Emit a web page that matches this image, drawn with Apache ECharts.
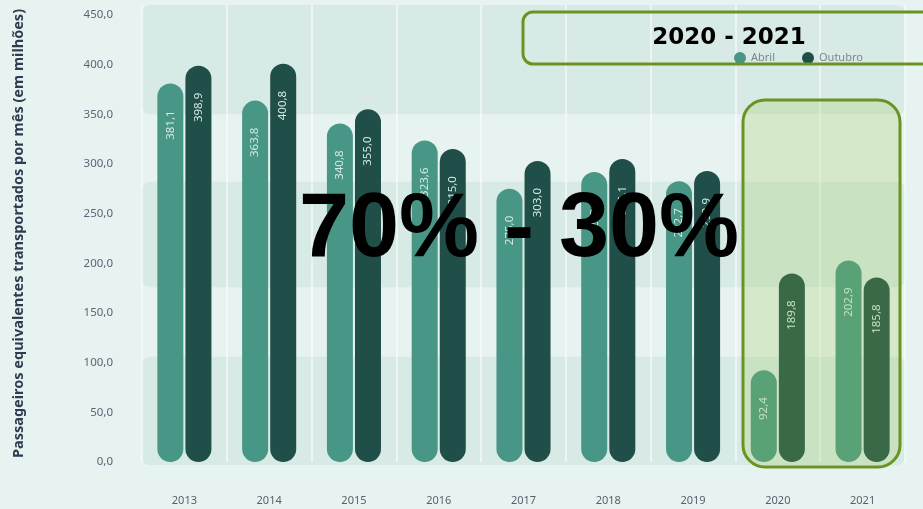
<!DOCTYPE html>
<html>
<head>
<meta charset="utf-8">
<script src="https://cdn.jsdelivr.net/npm/echarts@6.0.0/dist/echarts.min.js"></script>
<style>
  html, body { margin: 0; padding: 0; background: #e7f3f0; }
  #chart { width: 923px; height: 509px; }
</style>
</head>
<body>
<div id="chart"></div>
<script>
// dados
const years = ['2013', '2014', '2015', '2016', '2017', '2018', '2019', '2020', '2021']
const abril = [381.1, 363.8, 340.8, 323.6, 275.0, 292.0, 282.7, 92.4, 202.9]
const outubro = [398.9, 400.8, 355.0, 315.0, 303.0, 305.1, 292.9, 189.8, 185.8]
const seriesNames = ['Abril', 'Outubro']
const yAxisTitle = 'Passageiros equivalentes transportados por mês (em milhões)'
const highlightTitle = '2020 - 2021'
const bigText = '70% - 30%'

const fmt = v => v.toFixed(1).replace('.', ',')

const myChart = echarts.init(document.getElementById('chart'))

const barLabel = {
  show: true,
  position: 'insideTop',
  distance: 27,
  rotate: 90,
  align: 'right',
  verticalAlign: 'middle',
  color: '#d3e9e3',
  fontSize: 11.5,
  fontFamily: 'Noto Sans',
  formatter: p => fmt(p.value)
}

myChart.setOption({
  backgroundColor: '#e7f3f0',
  animation: false,
  grid: {
    left: 142,
    right: 18,
    top: 5,
    bottom: 47
  },
  legend: {
    data: seriesNames,
    icon: 'circle',
    itemWidth: 12,
    itemHeight: 12,
    itemGap: 27,
    left: 729,
    top: 47,
    textStyle: {
      color: '#7a8594',
      fontSize: 11,
      fontFamily: 'Noto Sans'
    }
  },
  xAxis: {
    type: 'category',
    data: years,
    axisLine: { show: false },
    axisTick: { show: false },
    axisLabel: {
      color: '#56616f',
      fontSize: 11,
      fontFamily: 'Noto Sans',
      margin: 33
    },
    splitLine: {
      show: true,
      lineStyle: { color: '#ffffff', width: 1.5, opacity: 0.7 }
    }
  },
  yAxis: {
    type: 'value',
    min: 0,
    max: 460,
    interval: 50,
    name: yAxisTitle,
    nameLocation: 'middle',
    nameGap: 116,
    nameTextStyle: {
      color: '#2e3b50',
      fontSize: 14.5,
      fontWeight: 'bold',
      fontFamily: 'Noto Sans'
    },
    axisLine: { show: false },
    axisTick: { show: false },
    splitLine: { show: false },
    axisLabel: {
      showMaxLabel: false,
      color: '#5b6577',
      fontSize: 11.5,
      fontFamily: 'Noto Sans',
      margin: 29,
      formatter: v => fmt(v)
    }
  },
  series: [
    {
      name: seriesNames[0],
      type: 'bar',
      barWidth: 26,
      barGap: '8%',
      itemStyle: { color: '#489686', borderRadius: 13 },
      label: barLabel,
      data: abril
    },
    {
      name: seriesNames[1],
      type: 'bar',
      barWidth: 26,
      itemStyle: { color: '#204f49', borderRadius: 13 },
      label: barLabel,
      data: outubro
    }
  ]
})

// faixas de fundo arredondadas (em valores do eixo y)
const bands = [[-3, 106], [176, 282], [350, 460]]
const gridLeft = 142
const gridRight = 905
const bandRects = bands.map(b => {
  const yTop = myChart.convertToPixel({ yAxisIndex: 0 }, b[1])
  const yBot = myChart.convertToPixel({ yAxisIndex: 0 }, b[0])
  return {
    type: 'rect',
    z: -10,
    shape: { x: gridLeft, y: yTop, width: gridRight - gridLeft, height: yBot - yTop, r: 8 },
    style: { fill: '#d8eae6' }
  }
})

myChart.setOption({
  graphic: bandRects.concat([
    {
      type: 'rect',
      z: 100,
      shape: { x: 743, y: 100, width: 157, height: 367, r: 22 },
      style: { fill: 'rgba(150,200,70,0.22)', stroke: '#6b9322', lineWidth: 3 }
    },
    {
      type: 'rect',
      z: 100,
      shape: { x: 523, y: 12, width: 410, height: 52, r: 10 },
      style: { fill: 'none', stroke: '#6b9322', lineWidth: 3 }
    },
    {
      type: 'text',
      z: 101,
      x: 729,
      y: 38,
      style: {
        text: highlightTitle,
        fill: '#000000',
        font: 'bold 23px "DejaVu Sans"',
        textAlign: 'center',
        textVerticalAlign: 'middle'
      }
    },
    {
      type: 'text',
      z: 101,
      x: 519,
      y: 231,
      style: {
        text: bigText,
        fill: '#000000',
        font: 'bold 90px "Liberation Sans"',
        textAlign: 'center',
        textVerticalAlign: 'middle'
      }
    }
  ])
})

window.addEventListener('resize', () => {
  myChart.resize()
})
</script>
</body>
</html>
